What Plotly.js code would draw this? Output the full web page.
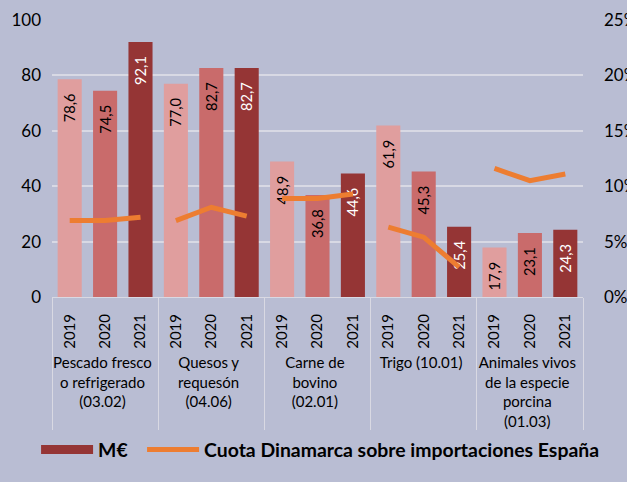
<!DOCTYPE html>
<html><head><meta charset="utf-8">
<script src="https://cdn.plot.ly/plotly-3.0.1.min.js"></script>
<style>html,body{margin:0;padding:0;background:#b9bdd3}</style>
</head><body>
<div id="chart" style="width:627px;height:482px"></div>
<script>
const groups = ['Pescado fresco<br>o refrigerado<br>(03.02)', 'Quesos y<br>requesón<br>(04.06)', 'Carne de<br>bovino<br>(02.01)', 'Trigo (10.01)', 'Animales vivos<br>de la especie<br>porcina<br>(01.03)'];
const years = ['2019', '2020', '2021'];
const valores = [[78.6, 74.5, 92.1], [77.0, 82.7, 82.7], [48.9, 36.8, 44.6], [61.9, 45.3, 25.4], [17.9, 23.1, 24.3]];
const cuota = [[6.9, 6.9, 7.2], [6.9, 8.1, 7.3], [8.9, 8.9, 9.3], [6.3, 5.4, 2.7], [11.6, 10.5, 11.1]];
const yearColors = ['#e09e9e', '#c96b6b', '#953535'];
const yearText = ['#000000', '#000000', '#ffffff'];
const font = 'Lato, "Open Sans", sans-serif';

const gx = [], yx = [], yv = [], cols = [], tcols = [];
groups.forEach((g, i) => years.forEach((y, j) => {
  gx.push(g); yx.push(y); yv.push(valores[i][j]); cols.push(yearColors[j]); tcols.push(yearText[j]);
}));

const traces = [{
  type: 'bar', x: [gx, yx], y: yv, showlegend: false,
  marker: {color: cols},
  texttemplate: '%{y:.1f}\u00a0\u00a0\u00a0', textposition: 'inside', insidetextanchor: 'end',
  textangle: -90, textfont: {color: tcols, size: 17, family: font},
  hoverinfo: 'skip', cliponaxis: false
}, {
  type: 'scatter', mode: 'lines', x: [[groups[0]], [years[0]]], y: [null],
  name: 'M€\u00a0\u00a0', line: {color: '#953535', width: 9}, legendgroup: 'm'
}];
groups.forEach((g, i) => {
  traces.push({
    type: 'scatter', mode: 'lines', yaxis: 'y2',
    x: [years.map(() => g), years], y: cuota[i].map(v => v / 100),
    name: 'Cuota Dinamarca sobre importaciones España', legendgroup: 'c',
    showlegend: i === 0, line: {color: '#ed7d31', width: 5}
  });
});

const layout = {
  width: 627, height: 482,
  paper_bgcolor: '#b9bdd3', plot_bgcolor: '#b9bdd3',
  margin: {l: 52, r: 44, t: 20, b: 182},
  separators: ', ',
  font: {family: font, size: 16, color: '#000'},
  bargap: 0.32,
  xaxis: {
    type: 'multicategory', tickangle: -90, showgrid: false, automargin: false,
    showline: true, linecolor: '#d9d9e3', linewidth: 1,
    showdividers: true, dividercolor: '#d9d9e3', dividerwidth: 1,
    tickfont: {size: 15, family: font}, ticks: '', ticklabelstandoff: 10
  },
  yaxis: {
    range: [0, 100], dtick: 20, gridcolor: '#d8d9e4', gridwidth: 1.5, automargin: false,
    zeroline: false, tickfont: {size: 17, family: font}, ticklabelstandoff: 10
  },
  yaxis2: {
    range: [0, 0.25], dtick: 0.05, tickformat: '.0%', overlaying: 'y', side: 'right', automargin: false,
    showgrid: false, zeroline: false, tickfont: {size: 17, family: font}, ticklabelstandoff: 20
  },
  legend: {
    orientation: 'h', x: -0.03, xanchor: 'left', y: -0.622, yanchor: 'bottom',
    font: {size: 19.4, family: font, weight: 'bold'}, itemwidth: 52, bgcolor: 'rgba(0,0,0,0)'
  }
};
Plotly.newPlot('chart', traces, layout, {displayModeBar: false});
</script>
</body></html>
